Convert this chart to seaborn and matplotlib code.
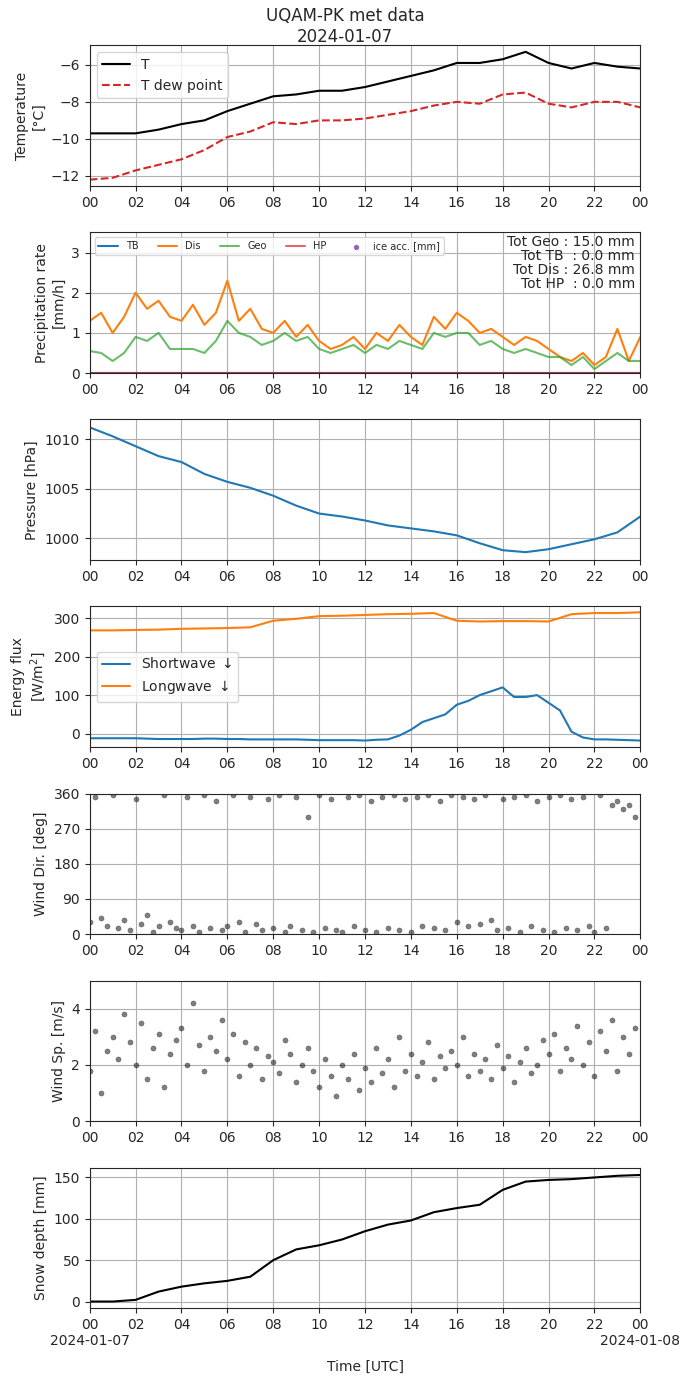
import numpy as np
import pandas as pd
import matplotlib.pyplot as plt
import seaborn as sns

sns.set_style('ticks')
plt.rcParams['font.family'] = ['DejaVu Sans']

# hourly values 00..24 UTC
hours = np.arange(0, 25, 1.0)
temp = [-9.7, -9.7, -9.7, -9.5, -9.2, -9.0, -8.5, -8.1, -7.7, -7.6, -7.4, -7.4, -7.2,
        -6.9, -6.6, -6.3, -5.9, -5.9, -5.7, -5.3, -5.9, -6.2, -5.9, -6.1, -6.2]
dew = [-12.2, -12.1, -11.7, -11.4, -11.1, -10.6, -9.9, -9.6, -9.1, -9.2, -9.0, -9.0, -8.9,
       -8.7, -8.5, -8.2, -8.0, -8.1, -7.6, -7.5, -8.1, -8.3, -8.0, -8.0, -8.3]
pressure = [1011.2, 1010.3, 1009.3, 1008.3, 1007.7, 1006.5, 1005.7, 1005.1, 1004.3, 1003.3,
            1002.5, 1002.2, 1001.8, 1001.3, 1001.0, 1000.7, 1000.3, 999.5, 998.8, 998.6,
            998.9, 999.4, 999.9, 1000.6, 1002.2]
longwave = [268, 268, 269, 270, 272, 273, 274, 276, 293, 298, 305, 306, 308, 310, 311, 313,
            293, 291, 292, 292, 291, 310, 313, 313, 315]
snow = [0, 0, 2, 12, 18, 22, 25, 30, 50, 63, 68, 75, 85, 93, 98, 108, 113, 117, 135, 145,
        147, 148, 150, 152, 153]

# half-hourly shortwave
half = np.arange(0, 24.5, 0.5)
shortwave = [-12, -12, -12, -12, -12, -13, -14, -14, -14, -14, -13, -13, -14, -14, -15, -15,
             -15, -15, -15, -16, -17, -17, -17, -17, -18, -16, -15, -5, 10, 30, 40, 50,
             75, 85, 100, 110, 120, 95, 95, 100, 80, 60, 5, -10, -15, -15, -16, -17, -18]

# precipitation, half-hourly
dis = [1.3, 1.5, 1.0, 1.4, 2.0, 1.6, 1.8, 1.4, 1.3, 1.7, 1.2, 1.5, 2.3, 1.3, 1.6, 1.1,
       1.0, 1.3, 0.9, 1.2, 0.8, 0.6, 0.7, 0.9, 0.6, 1.0, 0.8, 1.2, 0.9, 0.7, 1.4, 1.1,
       1.5, 1.3, 1.0, 1.1, 0.9, 0.7, 0.9, 0.8, 0.6, 0.4, 0.3, 0.5, 0.2, 0.4, 1.1, 0.3, 0.9]
geo = [0.55, 0.5, 0.3, 0.5, 0.9, 0.8, 1.0, 0.6, 0.6, 0.6, 0.5, 0.8, 1.3, 1.0, 0.9, 0.7,
       0.8, 1.0, 0.8, 0.9, 0.6, 0.5, 0.6, 0.7, 0.5, 0.7, 0.6, 0.8, 0.7, 0.6, 1.0, 0.9,
       1.0, 1.0, 0.7, 0.8, 0.6, 0.5, 0.6, 0.5, 0.4, 0.4, 0.2, 0.4, 0.1, 0.3, 0.5, 0.3, 0.3]
zeros = [0.0] * len(half)

# wind, every 15 min
quarter = np.arange(0, 24, 0.25)
wind_dir = [30, 350, 40, 20, 355, 15, 35, 10, 345, 25, 50, 5, 20, 355, 30, 15,
            10, 350, 20, 5, 355, 15, 340, 10, 20, 355, 30, 5, 350, 25, 10, 345,
            15, 355, 5, 20, 350, 10, 300, 5, 355, 15, 345, 10, 5, 350, 20, 355,
            10, 340, 5, 350, 15, 355, 10, 345, 5, 350, 20, 355, 15, 340, 10, 355,
            30, 350, 20, 345, 25, 355, 35, 10, 345, 15, 350, 5, 355, 20, 340, 10,
            350, 5, 355, 15, 345, 10, 350, 20, 5, 355, 15, 330, 340, 320, 330, 300]
wind_sp = [1.8, 3.2, 1.0, 2.5, 3.0, 2.2, 3.8, 2.8, 2.0, 3.5, 1.5, 2.6, 3.1, 1.2, 2.4, 2.9,
           3.3, 2.0, 4.2, 2.7, 1.8, 3.0, 2.5, 3.6, 2.2, 3.1, 1.6, 2.8, 2.0, 2.6, 1.5, 2.3,
           2.1, 1.7, 2.9, 2.4, 1.4, 2.0, 2.6, 1.8, 1.2, 2.2, 1.6, 0.9, 2.0, 1.5, 2.4, 1.1,
           1.9, 1.4, 2.6, 1.7, 2.2, 1.2, 3.0, 1.8, 2.4, 1.6, 2.1, 2.8, 1.5, 2.3, 1.9, 2.5,
           2.0, 3.0, 1.6, 2.4, 1.8, 2.2, 1.5, 2.7, 1.9, 2.3, 1.4, 2.1, 2.6, 1.7, 2.0, 2.9,
           2.4, 3.1, 1.8, 2.6, 2.2, 3.4, 2.0, 2.8, 1.6, 3.2, 2.5, 3.6, 1.8, 3.0, 2.4, 3.3]

fig, axes = plt.subplots(7, 1, figsize=(6.9, 13.77), dpi=100)
fig.subplots_adjust(left=0.13, right=0.928, top=0.967, bottom=0.05, hspace=0.33)
fig.suptitle('UQAM-PK met data\n2024-01-07', y=0.995, fontsize=12)

ax = axes[0]
sns.lineplot(x=hours, y=temp, ax=ax, color='black', label='T')
sns.lineplot(x=hours, y=dew, ax=ax, color='tab:red', linestyle='--', label='T dew point')
ax.set_ylabel('Temperature\n[°C]')
ax.legend(loc='upper left')

ax = axes[1]
sns.lineplot(x=half, y=zeros, ax=ax, color='tab:blue', label='TB')
sns.lineplot(x=half, y=dis, ax=ax, color='tab:orange', label='Dis')
sns.lineplot(x=half, y=geo, ax=ax, color='tab:green', alpha=0.7, label='Geo')
sns.lineplot(x=half, y=zeros, ax=ax, color='tab:red', alpha=0.7, label='HP')
ax.scatter([], [], s=8, color='tab:purple', label='ice acc. [mm]')
ax.set_ylim(0, 3.5)
ax.set_ylabel('Precipitation rate\n[mm/h]')
ax.legend(loc='upper left', ncol=5, fontsize=7)
ax.text(0.99, 0.98, 'Tot Geo : 15.0 mm\nTot TB  : 0.0 mm\nTot Dis : 26.8 mm\nTot HP  : 0.0 mm',
        transform=ax.transAxes, ha='right', va='top', fontsize=10, linespacing=1.0)

ax = axes[2]
sns.lineplot(x=hours, y=pressure, ax=ax, color='tab:blue')
ax.set_ylim(997.8, 1012)
ax.set_ylabel('Pressure [hPa]')

ax = axes[3]
sns.lineplot(x=half, y=shortwave, ax=ax, color='tab:blue', label='Shortwave $\\downarrow$')
sns.lineplot(x=hours, y=longwave, ax=ax, color='tab:orange', label='Longwave $\\downarrow$')
ax.set_ylim(-35, 330)
ax.set_ylabel('Energy flux\n[W/m$^2$]')
ax.legend(loc='center left')

ax = axes[4]
sns.scatterplot(x=quarter, y=wind_dir, ax=ax, color='black', edgecolor='black', alpha=0.5, s=14)
ax.set_ylim(0, 360)
ax.set_yticks([0, 90, 180, 270, 360])
ax.set_ylabel('Wind Dir. [deg]')

ax = axes[5]
sns.scatterplot(x=quarter, y=wind_sp, ax=ax, color='black', edgecolor='black', alpha=0.5, s=14)
ax.set_ylim(0, 5)
ax.set_yticks([0, 2, 4])
ax.set_ylabel('Wind Sp. [m/s]')

ax = axes[6]
sns.lineplot(x=hours, y=snow, ax=ax, color='black')
ax.set_ylim(-8, 162)
ax.set_ylabel('Snow depth [mm]')
ax.set_xlabel('Time [UTC]', labelpad=20)

ticks = np.arange(0, 25, 2)
labels = ['%02d' % (t % 24) for t in ticks]
for a in axes:
    a.set_xlim(0, 24)
    a.set_xticks(ticks)
    a.set_xticklabels(labels)
    a.grid(True, color='#b0b0b0')
axes[6].text(0, -0.185, '2024-01-07', transform=axes[6].transAxes, ha='center', va='top', fontsize=10)
axes[6].text(1, -0.185, '2024-01-08', transform=axes[6].transAxes, ha='center', va='top', fontsize=10)

fig.savefig('out.png')
